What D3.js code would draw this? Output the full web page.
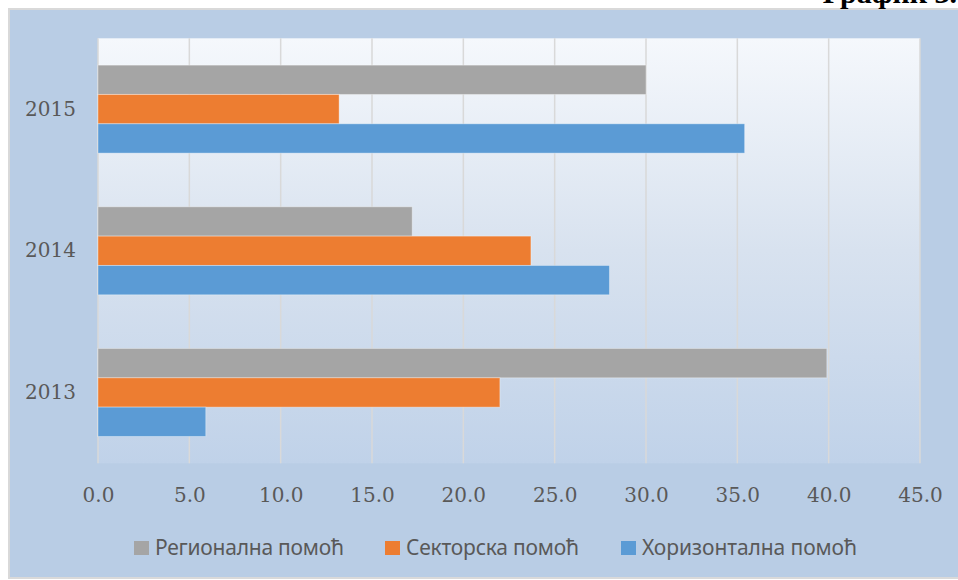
<!DOCTYPE html>
<html>
<head>
<meta charset="utf-8">
<script src="https://cdn.jsdelivr.net/npm/d3@7"></script>
<style>
  body { margin: 0; background: #fff; }
</style>
</head>
<body>
<div id="chart"></div>
<script>
const years = ["2015", "2014", "2013"];
const seriesNames = ["Регионална помоћ", "Секторска помоћ", "Хоризонтална помоћ"];
const seriesColors = ["#a5a5a5", "#ed7d31", "#5b9bd5"];
// values per year, in the order of seriesNames
const regional = [30.0, 17.2, 39.9];
const sectoral = [13.2, 23.7, 22.0];
const horizontal = [35.4, 28.0, 5.9];
const xTicks = [0, 5, 10, 15, 20, 25, 30, 35, 40, 45];

const width = 958;
const height = 580;
const plot = { left: 98, right: 920, top: 38.3, bottom: 463.3 };

const data = years.map((year, i) => ({
  year,
  values: [regional[i], sectoral[i], horizontal[i]],
}));

const svg = d3
  .select("#chart")
  .append("svg")
  .attr("width", width)
  .attr("height", height);

// outer chart box
svg
  .append("rect")
  .attr("x", 9)
  .attr("y", 9)
  .attr("width", 960)
  .attr("height", 569)
  .attr("fill", "#b9cde5")
  .attr("stroke", "#d9d9d9")
  .attr("stroke-width", 2);

// caption, cut at the top of the page like in the source document
svg
  .append("text")
  .text("График 3.")
  .attr("x", 957)
  .attr("y", 3)
  .attr("text-anchor", "end")
  .attr("font-family", "Liberation Serif")
  .attr("font-weight", 700)
  .attr("font-size", 30)
  .attr("fill", "#000");

const defs = svg.append("defs");
const grad = defs
  .append("linearGradient")
  .attr("id", "plotFill")
  .attr("x1", 0)
  .attr("y1", 0)
  .attr("x2", 0)
  .attr("y2", 1);
grad.append("stop").attr("offset", "0%").attr("stop-color", "#f5f8fc");
grad.append("stop").attr("offset", "50%").attr("stop-color", "#d8e2ef");
grad.append("stop").attr("offset", "100%").attr("stop-color", "#c0d2e9");

const x = d3.scaleLinear().domain([0, 45]).range([plot.left, plot.right]);
const y = d3.scaleBand().domain(years).range([plot.top, plot.bottom]);
const ySeries = d3
  .scaleBand()
  .domain(seriesNames)
  .range([0, y.bandwidth()])
  .paddingOuter(0.915);

svg
  .append("rect")
  .attr("x", plot.left)
  .attr("y", plot.top)
  .attr("width", plot.right - plot.left)
  .attr("height", plot.bottom - plot.top)
  .attr("fill", "url(#plotFill)");

// vertical gridlines
svg
  .append("g")
  .selectAll("line")
  .data(xTicks)
  .join("line")
  .attr("x1", (d) => x(d))
  .attr("x2", (d) => x(d))
  .attr("y1", plot.top)
  .attr("y2", plot.bottom)
  .attr("stroke", "#d9d9d9")
  .attr("stroke-width", 1.5);

// bars
const groups = svg
  .append("g")
  .selectAll("g")
  .data(data)
  .join("g")
  .attr("transform", (d) => `translate(0, ${y(d.year)})`);

groups
  .selectAll("rect")
  .data((d) => d.values.map((v, i) => ({ name: seriesNames[i], value: v, color: seriesColors[i] })))
  .join("rect")
  .attr("x", x(0))
  .attr("y", (d) => ySeries(d.name))
  .attr("width", (d) => x(d.value) - x(0))
  .attr("height", ySeries.bandwidth())
  .attr("fill", (d) => d.color)
  .attr("stroke", "#ffffff")
  .attr("stroke-opacity", 0.35)
  .attr("stroke-width", 1);

// x axis labels
const xAxis = svg
  .append("g")
  .attr("transform", `translate(0, ${plot.bottom})`)
  .call(
    d3.axisBottom(x)
      .tickValues(xTicks)
      .tickFormat(d3.format(".1f"))
      .tickSize(0)
      .tickPadding(25)
  );
xAxis.select(".domain").remove();
xAxis
  .selectAll("text")
  .attr("font-family", "DejaVu Serif")
  .attr("font-size", 20)
  .attr("fill", "#595959");

// y axis labels
const yAxis = svg
  .append("g")
  .attr("transform", `translate(${plot.left}, 0)`)
  .call(d3.axisLeft(y).tickSize(0).tickPadding(22));
yAxis.select(".domain").remove();
yAxis
  .selectAll("text")
  .attr("font-family", "DejaVu Serif")
  .attr("font-size", 20)
  .attr("fill", "#595959");

// legend
const legendX = [134, 385, 621];
const legendTextLen = [189, 173, 215];
const legend = svg
  .append("g")
  .selectAll("g")
  .data(seriesNames)
  .join("g")
  .attr("transform", (d, i) => `translate(${legendX[i]}, 541)`);

legend
  .append("rect")
  .attr("width", 15)
  .attr("height", 14)
  .attr("fill", (d, i) => seriesColors[i]);

legend
  .append("text")
  .text((d) => d)
  .attr("x", 21)
  .attr("y", 14)
  .attr("font-family", "Noto Sans")
  .attr("font-size", 21)
  .attr("fill", "#595959")
  .attr("textLength", (d, i) => legendTextLen[i])
  .attr("lengthAdjust", "spacing");
</script>
</body>
</html>
